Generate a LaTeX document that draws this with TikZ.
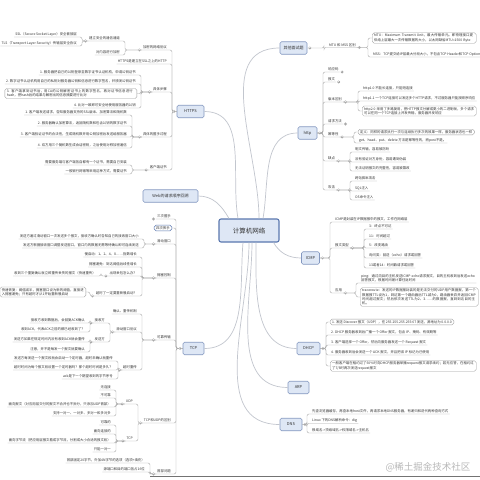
\documentclass[tikz,border=0pt]{standalone}
\usepackage{fontspec}
\setmainfont{Noto Sans CJK SC}
\XeTeXlinebreaklocale "zh"
\XeTeXlinebreakskip = 0pt plus 1pt
\usetikzlibrary{calc}
\definecolor{txt}{HTML}{333333}
\definecolor{mainfill}{HTML}{DEE7F5}
\definecolor{maindraw}{HTML}{8498C0}
\definecolor{rootdraw}{HTML}{5A77AF}
\definecolor{conncol}{HTML}{A9A9A9}
\definecolor{topconn}{HTML}{C2C6CE}
\definecolor{boxdraw}{HTML}{9C9C9C}
\newcommand\lfnt{\fontsize{3.4}{4.3}\selectfont}
\newcommand\mfnt{\fontsize{4}{5}\selectfont}
\newcommand\rfnt{\fontsize{6.5}{8}\selectfont}
\newcommand\conR[2]{\draw[conn] (#1) -| ([xshift=-4pt]#2.south west) -- (#2.south east);}
\newcommand\conRb[2]{\draw[conn] (#1) -| ([xshift=-4pt]#2.west) -- (#2.west);}
\newcommand\conL[2]{\draw[conn] (#1) -| ([xshift=4pt]#2.south east) -- (#2.south west);}
\newcommand\conLb[2]{\draw[conn] (#1) -| ([xshift=4pt]#2.east) -- (#2.east);}
\newcommand\knobAt[2]{\draw[knob] ([xshift=#2]#1) circle (1.3pt); \draw[conn,rounded corners=0pt,line width=0.3pt] ([xshift=#2-0.7pt]#1) -- ([xshift=#2+0.7pt]#1);}
\newcommand\knobPlus[2]{\knobAt{#1}{#2}\draw[conn,rounded corners=0pt,line width=0.3pt] ([xshift=#2,yshift=-0.7pt]#1) -- ([xshift=#2,yshift=0.7pt]#1);}
\tikzset{
  rootnode/.style={draw=rootdraw, fill=mainfill, line width=1.1pt, rounded corners=2pt, minimum width=60pt, minimum height=23pt, font=\rfnt, text=txt},
  mainnode/.style={draw=maindraw, fill=mainfill, line width=0.6pt, rounded corners=1.5pt, minimum height=12.5pt, inner xsep=3pt, font=\mfnt, text=txt},
  leaf/.style={font=\lfnt, text=txt, inner xsep=1pt, inner ysep=0.9pt},
  lbox/.style={leaf, draw=boxdraw, line width=0.35pt, rounded corners=1.8pt, fill=white, inner xsep=2pt, inner ysep=1.2pt, align=left},
  conn/.style={draw=conncol, line width=0.4pt, rounded corners=2pt},
  topc/.style={draw=topconn, line width=0.7pt},
  knob/.style={draw=conncol, fill=white, line width=0.3pt},
}
\begin{document}
\begin{tikzpicture}[x=1pt,y=-1pt]
\useasboundingbox (0,0) rectangle (480,480);
\fill[white] (0,0) rectangle (480,480);

% ---------- root and main topics ----------
\node[rootnode] (root) at (249,230.5) {计算机网络};
\node[mainnode, minimum width=27pt] (other) at (293.5,48) {其他面试题};
\node[mainnode, minimum width=27pt] (https) at (190.5,111.5) {HTTPS};
\node[mainnode, minimum width=19pt] (http) at (307.5,133) {http};
\node[mainnode, minimum width=55pt] (web) at (170.5,196) {Web的请求顺序回溯};
\node[mainnode, minimum width=18pt] (icmp) at (310.5,258) {ICMP};
\node[mainnode, minimum width=23pt] (dhcp) at (308.5,348.5) {DHCP};
\node[mainnode, minimum width=21pt] (tcp) at (193.5,348.5) {TCP};
\node[mainnode, minimum width=21pt] (arp) at (298.5,387.5) {ARP};
\node[mainnode, minimum width=22pt] (dns) at (291,424.5) {DNS};

% ---------- 其他面试题 ----------
\node[leaf, anchor=south west] (mtu) at (328,47.5) {MTU 和 MSS 区别};
\node[lbox, anchor=west, text width=100pt] (mtu1) at (372,38) {MTU：Maximum Transmit Unit，最大传输单元。即物理接口提供给上层最大一次传输数据的大小，以太网缺省MTU=1500 Byte};
\node[leaf, anchor=south west] (mtu2) at (372,57) {MSS：TCP提交给IP层最大分段大小，不包含TCP Header和TCP Option};

% ---------- http ----------
\node[leaf, anchor=south west] (hresp) at (327,72) {响应码};
\node[leaf, anchor=south west] (hmsg) at (327,82) {报文};
\node[leaf, anchor=south west] (hver) at (327,102) {版本区别};
\node[leaf, anchor=south west] (hmeth) at (327,124) {请求方法};
\node[leaf, anchor=south west] (hidem) at (327,137) {幂等性};
\node[leaf, anchor=south west] (hbad) at (327,161) {缺点};
\node[leaf, anchor=south west] (hsec) at (327,190) {攻击};
\node[leaf, anchor=south west] (v1) at (362,91) {http1.0 不能长连接，只能短连接};
\node[leaf, anchor=south west] (v2) at (362,101) {http1.1 一个TCP连接可以发送多个HTTP请求，不过服务器只能按顺序响应};
\node[lbox, anchor=west, text width=110pt] (v3) at (362,111) {http2.0 采用了多路复用，把HTTP报文分解成更小的二进制帧，多个请求可以在同一个TCP连接上并发传输，服务器并发响应};
\node[lbox, anchor=west] (i1) at (358,132) {定义：同样的请求执行一次与连续执行多次的效果一样，服务器状态也一样};
\node[leaf, anchor=south west] (i2) at (358,143) {get、head、put、delete 方法是幂等性的，而post不是。};
\node[leaf, anchor=south west] (b1) at (354,152) {明文传输，容易被窃听};
\node[leaf, anchor=south west] (b2) at (354,162) {没有验证对方身份，容易遭到伪装};
\node[leaf, anchor=south west] (b3) at (354,171) {无法证明报文的完整性，容易被篡改};
\node[leaf, anchor=south west] (s1) at (354,181) {跨站脚本攻击};
\node[leaf, anchor=south west] (s2) at (354,191) {SQL注入};
\node[leaf, anchor=south west] (s3) at (354,200) {OS命令注入};

% ---------- ICMP ----------
\node[leaf, anchor=south west] (cdef) at (334,222) {ICMP是封装在IP数据报中的报文，工作在网络层};
\node[leaf, anchor=south west] (ctype) at (334,248) {报文类型};
\node[leaf, anchor=south west] (t1) at (368,229) {3：终点不可达};
\node[leaf, anchor=south west] (t2) at (368,239) {11：时间超过};
\node[leaf, anchor=south west] (t3) at (368,248) {5：改变路由};
\node[leaf, anchor=south west] (t4) at (368,258) {询问类：回送（echo）请求或回答};
\node[leaf, anchor=south west] (t5) at (368,268) {13或者14：时间戳请求或回答};
\node[leaf, anchor=south west] (capp) at (334,293) {应用};
\node[leaf, anchor=south west, text width=114pt, align=left] (a1) at (360,283) {ping：通过向目的主机发送ICMP echo请求报文，目的主机收到后发送echo回答报文，根据时间差计算往返时间};
\node[lbox, anchor=west, text width=114pt] (a2) at (360,297) {traceroute：发送的IP数据报封装的是无法交付的UDP用户数据报，第一个数据报TTL设为1，到达第一个路由器后TTL减为0，路由器丢弃并返回ICMP时间超过报文；然后依次发送TTL为2、3……的数据报，直到到达目的主机。};

% ---------- DHCP ----------
\node[lbox, anchor=west] (d1) at (330,322) {1. 发送 Discover 报文（UDP），往 255.255.255.255:67 发送，源地址为 0.0.0.0};
\node[leaf, anchor=south west] (d2) at (330,335) {2. DHCP 服务器收到后广播一个 Offer 报文，包含 IP、掩码、有效期等};
\node[leaf, anchor=south west] (d3) at (330,345) {3. 客户端选择一个 Offer，然后向服务器发送一个 Request 报文};
\node[leaf, anchor=south west] (d4) at (330,355) {4. 服务器收到后会发送一个 ACK 报文，并且把该 IP 标记为已使用};
\node[lbox, anchor=west, text width=142pt] (d5) at (330,366) {一般客户端在租约过了50\%时向DHCP服务器单播request报文请求续约；若无应答，在租约过了7/8时再次发送request报文};

% ---------- DNS ----------
\node[leaf, anchor=south west] (n1) at (311,414) {先查浏览器缓存，再查本地host文件，再请求本地DNS服务器，有递归和迭代两种查询方式};
\node[leaf, anchor=south west] (n2) at (311,423.5) {Linux 下的DNS解析命令：dig};
\node[leaf, anchor=south west] (n3) at (311,433) {根域名->顶级域名->权限域名->主机名};

% ---------- HTTPS ----------
\node[leaf, anchor=south east] (p1) at (168,50) {加密的网络协议};
\node[leaf, anchor=south east] (p2) at (168,64) {HTTPS是建立在SSL之上的HTTP};
\node[leaf, anchor=south east] (p3) at (168,92) {具体步骤};
\node[leaf, anchor=south east] (p4) at (168,137) {具体的握手过程};
\node[leaf, anchor=south east] (p5) at (168,170) {客户端证书};
\node[leaf, anchor=south east] (q1) at (121,41) {建立安全的通信通道};
\node[leaf, anchor=south east] (q2) at (121,55) {对内容进行加密};
\node[leaf, anchor=south east] (r1) at (78,37) {SSL（Secure Socket Layer）安全套接层};
\node[leaf, anchor=south east] (r2) at (78,46) {TLS（Transport Layer Security）传输层安全协议};
\node[leaf, anchor=south east] (k1) at (137,75) {1. 服务器把自己的公钥登录至数字证书认证机构，申请公钥证书};
\node[leaf, anchor=south east] (k2) at (137,84) {2. 数字证书认证机构用自己的私钥对服务器公钥和信息进行数字签名，并颁发公钥证书};
\node[lbox, anchor=east, text width=128pt] (k3) at (137,93.5) {3. 客户端拿到证书后，用CA的公钥解密证书上的数字签名，再对证书信息进行hash，把hash后的结果与解密出的信息摘要进行比对};
\node[leaf, anchor=south east] (k4) at (137,108) {4. 比对一致即可安全地使用服务器的公钥};
\node[leaf, anchor=south east] (w11) at (128,115) {1. 客户端发送请求，告知服务器支持的SSL版本、加密算法和随机数};
\node[leaf, anchor=south east] (w12) at (128,126) {2. 服务器确认加密算法，返回随机数和包含公钥的数字证书};
\node[leaf, anchor=south east] (w13) at (128,137) {3. 客户端验证证书的合法性，生成随机数并用公钥加密后发送给服务器};
\node[leaf, anchor=south east] (w14) at (128,148) {4. 双方用三个随机数生成会话密钥，之后使用对称加密通信};
\node[leaf, anchor=south east] (e1) at (128,165) {需要服务端与客户端各自都有一个证书，需要自己安装};
\node[leaf, anchor=south east] (e2) at (128,174) {一般银行网银等采用这种方式，需要证书};

% ---------- TCP ----------
\node[leaf, anchor=south east] (t3w) at (172,219) {三次握手};
\node[lbox, anchor=east, draw=rootdraw, line width=0.5pt] (t4w) at (172,228) {四次挥手};
\node[leaf, anchor=south east] (twin) at (172,244) {滑动窗口};
\node[leaf, anchor=south east] (tcong) at (172,278) {拥塞控制};
\node[leaf, anchor=south east] (trel) at (172,340) {可靠传输};
\node[leaf, anchor=south east] (tcmp) at (172,423) {TCP和UDP的区别};
\node[leaf, anchor=south east] (thdr) at (172,474) {首部问题};
\node[leaf, anchor=south east] (w1) at (140,239) {发送方通过滑动窗口一次发送多个报文，接收方确认时告知自己的接收窗口大小};
\node[leaf, anchor=south east] (w2) at (140,248) {发送方根据接收窗口调整发送窗口，窗口内的数据无需等待确认即可连续发送};
\node[leaf, anchor=south east] (g1) at (138,257) {慢启动：1、2、4、8……指数增长};
\node[leaf, anchor=south east] (g2) at (138,267) {拥塞避免：到达阈值后线性增长};
\node[leaf, anchor=south east] (g3) at (138,276) {出现丢包怎么办？};
\node[leaf, anchor=south east] (g4) at (138,296) {超时了一定要重新慢启动？};
\node[leaf, anchor=south east] (g31) at (97,276) {收到三个重复确认就立即重传丢失的报文（快速重传）};
\node[lbox, anchor=east, text width=82pt] (g41) at (86,292) {快速恢复：阈值减半，拥塞窗口设为新的阈值，直接进入拥塞避免；只有超时才从1开始重新慢启动};
\node[leaf, anchor=south east] (l1) at (138,314) {确认、重传机制};
\node[leaf, anchor=south east] (l2) at (138,332) {滑动窗口协议};
\node[leaf, anchor=south east] (l3) at (138,370) {超时重传};
\node[leaf, anchor=south east] (l21) at (106,323) {接收方};
\node[leaf, anchor=south east] (l22) at (106,342) {发送方};
\node[leaf, anchor=south east] (l211) at (86,323) {接收方收到数据后，会回复ACK确认};
\node[leaf, anchor=south east] (l212) at (86,332) {收到ACK，代表ACK之前的都已经收到了？};
\node[leaf, anchor=south east] (l221) at (86,342) {发送方如果在规定时间内没有收到ACK就会重传};
\node[leaf, anchor=south east] (l222) at (86,352) {注意，并不是每发一个报文就要确认};
\node[leaf, anchor=south east] (l31) at (114,361) {发送方每发送一个报文段就会启动一个定时器，超时未确认就重传};
\node[leaf, anchor=south east] (l32) at (114,370) {超时时间为每个报文段设置一个定时器吗？那个超时时间是多久？};
\node[leaf, anchor=south east] (l33) at (114,379) {ack是下一个期望收到的字节序号};
\node[leaf, anchor=south east] (uu) at (134,404) {UDP};
\node[leaf, anchor=south east] (tt) at (134,441) {TCP};
\node[leaf, anchor=south east] (u1) at (112,390) {无连接};
\node[leaf, anchor=south east] (u2) at (112,398) {不可靠};
\node[leaf, anchor=south east] (u3) at (112,407) {面向报文（对应用层交付的报文不合并也不拆分，只添加UDP首部）};
\node[leaf, anchor=south east] (u4) at (112,416) {支持一对一、一对多、多对一和多对多};
\node[leaf, anchor=south east] (c1) at (112,425) {可靠的};
\node[leaf, anchor=south east] (c2) at (112,434) {面向连接的};
\node[leaf, anchor=south east] (c3) at (112,443) {面向字节流（把应用层报文看成字节流，分割成大小合适的报文段）};
\node[leaf, anchor=south east] (c4) at (112,452) {只能一对一};
\node[leaf, anchor=south east] (h1) at (146,463) {首部固定20字节，外加4N字节的选项（选项+填充）};
\node[leaf, anchor=south east] (h2) at (146,472) {源端口和目的端口各占16位};

% ---------- top-level connectors ----------
\draw[topc] ([xshift=10pt]root.north) to[out=90,in=180] (other.west);
\draw[topc] ([xshift=-11pt]root.north) to[out=100,in=0] (https.east);
\draw[topc] ([xshift=14pt]root.north) to[out=80,in=180] (http.west);
\draw[topc] ([xshift=-20pt]root.north) to[out=120,in=0] (web.east);
\draw[topc] ([xshift=-6pt]root.south east) to[out=-60,in=180] (icmp.west);
\draw[topc] ([xshift=7pt]root.south) to[out=-90,in=180] (dhcp.west);
\draw[topc] ([xshift=3pt]root.south) to[out=-90,in=180] (arp.west);
\draw[topc] ([xshift=0pt]root.south) to[out=-90,in=180] (dns.west);
\draw[topc] ([xshift=-6pt]root.south) to[out=-95,in=0] (tcp.east);

% ---------- child connectors ----------
\conR{other.east}{mtu}
\conRb{mtu.south east}{mtu1}
\conR{mtu.south east}{mtu2}
\conR{http.east}{hresp}\conR{http.east}{hmsg}\conR{http.east}{hver}\conR{http.east}{hmeth}
\conR{http.east}{hidem}\conR{http.east}{hbad}\conR{http.east}{hsec}
\conR{hver.south east}{v1}\conR{hver.south east}{v2}\conRb{hver.south east}{v3}
\conRb{hidem.south east}{i1}\conR{hidem.south east}{i2}
\conR{hbad.south east}{b1}\conR{hbad.south east}{b2}\conR{hbad.south east}{b3}
\conR{hsec.south east}{s1}\conR{hsec.south east}{s2}\conR{hsec.south east}{s3}
\conR{icmp.east}{cdef}\conR{icmp.east}{ctype}\conR{icmp.east}{capp}
\conR{ctype.south east}{t1}\conR{ctype.south east}{t2}\conR{ctype.south east}{t3}
\conR{ctype.south east}{t4}\conR{ctype.south east}{t5}
\conR{capp.south east}{a1}\conRb{capp.south east}{a2}
\conRb{dhcp.east}{d1}\conR{dhcp.east}{d2}\conR{dhcp.east}{d3}\conR{dhcp.east}{d4}\conRb{dhcp.east}{d5}
\conR{dns.east}{n1}\conR{dns.east}{n2}\conR{dns.east}{n3}
\conL{https.west}{p1}\conL{https.west}{p2}\conL{https.west}{p3}\conL{https.west}{p4}\conL{https.west}{p5}
\conL{p1.south west}{q1}\conL{p1.south west}{q2}
\conL{q1.south west}{r1}\conL{q1.south west}{r2}
\conL{p3.south west}{k1}\conL{p3.south west}{k2}\conLb{p3.south west}{k3}\conL{p3.south west}{k4}
\conL{p4.south west}{w11}\conL{p4.south west}{w12}\conL{p4.south west}{w13}\conL{p4.south west}{w14}
\conL{p5.south west}{e1}\conL{p5.south west}{e2}
\conL{tcp.west}{t3w}\conLb{tcp.west}{t4w}\conL{tcp.west}{twin}\conL{tcp.west}{tcong}
\conL{tcp.west}{trel}\conL{tcp.west}{tcmp}\conL{tcp.west}{thdr}
\conL{twin.south west}{w1}\conL{twin.south west}{w2}
\conL{tcong.south west}{g1}\conL{tcong.south west}{g2}\conL{tcong.south west}{g3}\conL{tcong.south west}{g4}
\conL{g3.south west}{g31}
\conLb{g4.south west}{g41}
\conL{trel.south west}{l1}\conL{trel.south west}{l2}\conL{trel.south west}{l3}
\conL{l2.south west}{l21}\conL{l2.south west}{l22}
\conL{l21.south west}{l211}\conL{l21.south west}{l212}
\conL{l22.south west}{l221}\conL{l22.south west}{l222}
\conL{l3.south west}{l31}\conL{l3.south west}{l32}\conL{l3.south west}{l33}
\conL{tcmp.south west}{uu}\conL{tcmp.south west}{tt}
\conL{uu.south west}{u1}\conL{uu.south west}{u2}\conL{uu.south west}{u3}\conL{uu.south west}{u4}
\conL{tt.south west}{c1}\conL{tt.south west}{c2}\conL{tt.south west}{c3}\conL{tt.south west}{c4}
\conL{thdr.south west}{h1}\conL{thdr.south west}{h2}

% ---------- knobs ----------
\knobAt{other.east}{2.5pt}\knobAt{mtu.south east}{2.5pt}\knobAt{http.east}{2.5pt}
\knobAt{hver.south east}{2.5pt}\knobAt{hidem.south east}{2.5pt}\knobAt{hbad.south east}{2.5pt}
\knobAt{hsec.south east}{2.5pt}\knobAt{icmp.east}{2.5pt}\knobAt{ctype.south east}{2.5pt}
\knobAt{capp.south east}{2.5pt}\knobAt{dhcp.east}{2.5pt}\knobAt{dns.east}{2.5pt}
\knobAt{https.west}{-2.5pt}\knobAt{p1.south west}{-2.5pt}\knobAt{q1.south west}{-2.5pt}
\knobAt{p3.south west}{-2.5pt}\knobAt{p4.south west}{-2.5pt}\knobAt{p5.south west}{-2.5pt}
\knobAt{tcp.west}{-2.5pt}\knobAt{twin.south west}{-2.5pt}\knobAt{tcong.south west}{-2.5pt}
\knobAt{g3.south west}{-2.5pt}\knobAt{g4.south west}{-2.5pt}\knobAt{trel.south west}{-2.5pt}
\knobAt{l2.south west}{-2.5pt}\knobAt{l21.south west}{-2.5pt}\knobAt{l22.south west}{-2.5pt}
\knobAt{l3.south west}{-2.5pt}\knobAt{tcmp.south west}{-2.5pt}\knobAt{uu.south west}{-2.5pt}
\knobAt{tt.south west}{-2.5pt}\knobAt{thdr.south west}{-2.5pt}
\knobPlus{hresp.south east}{2.5pt}\knobPlus{hmsg.south east}{2.5pt}\knobPlus{hmeth.south east}{2.5pt}
\knobPlus{t3w.south west}{-2.5pt}

% ---------- watermark and bottom edge ----------
\draw[black!55, line width=0.6pt] (150,476.5) -- (480,476.5);
\node[font=\fontsize{9.5}{11}\selectfont, text=black!28, inner sep=1pt] (wm) at (428,467) {@稀土掘金技术社区};
\end{tikzpicture}
\end{document}
